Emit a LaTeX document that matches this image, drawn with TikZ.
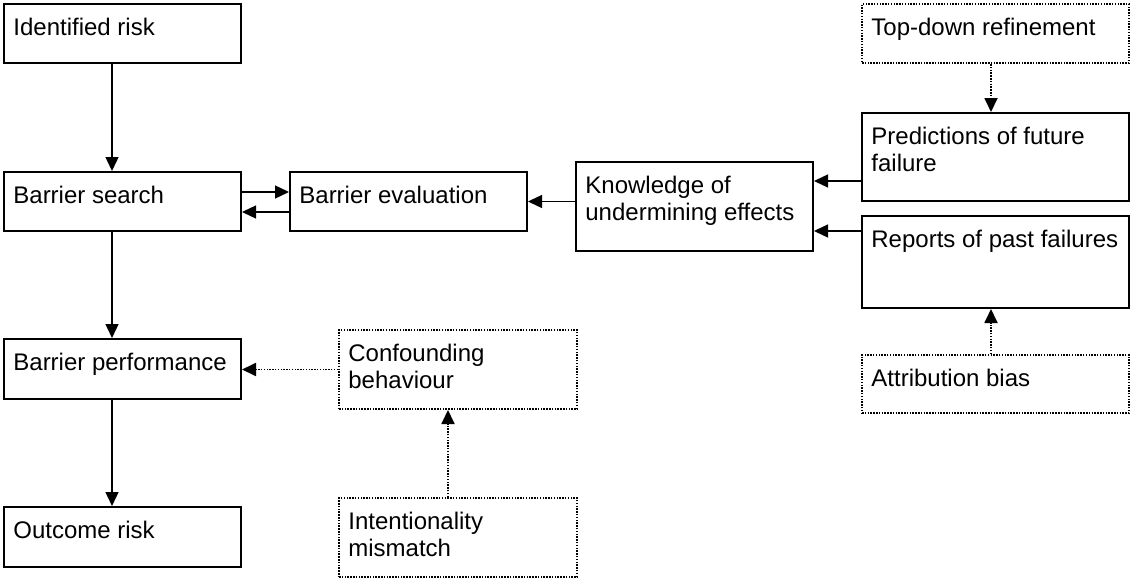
\documentclass[tikz,border=0pt]{standalone}
\usepackage{fontspec}
\setmainfont{Liberation Sans}
\usetikzlibrary{arrows.meta}
\begin{document}
\begin{tikzpicture}[x=0.5pt, y=-0.5pt,
    box/.style = {draw, line width=1pt, inner sep=0pt},
    hintbox/.style = {draw, line width=1pt, dash pattern=on 0.75pt off 0.65pt, inner sep=0pt},
    txt/.style = {anchor=base west, inner sep=0pt, align=left, font=\fontsize{12}{13.5}\selectfont},
    arr/.style = {-{Triangle[length=7pt,width=6.5pt]}, line width=0.7pt},
    hintarr/.style = {arr, line width=0.9pt, dash pattern=on 0.75pt off 0.65pt}]
    \useasboundingbox (0,0) rectangle (1131,578);
    % main chain
    \node[box, minimum width=118.5pt, minimum height=29.5pt] (ir) at (122.5,33.5) {};
    \node[box, minimum width=118.5pt, minimum height=29.5pt] (bs) at (122.5,201.5) {};
    \node[box, minimum width=118.5pt, minimum height=30pt] (bp) at (122.5,369) {};
    \node[box, minimum width=118.5pt, minimum height=30pt] (or) at (122.5,537) {};
    \node[box, minimum width=118.5pt, minimum height=29.5pt] (be) at (408.5,201.5) {};
    \node[box, minimum width=118.5pt, minimum height=44.5pt] (ku) at (694.5,206.5) {};
    \node[box, minimum width=133.5pt, minimum height=44pt] (pf) at (995.5,157) {};
    \node[box, minimum width=133.5pt, minimum height=46pt] (rp) at (995.5,262) {};
    % influences
    \node[hintbox, minimum width=133.5pt, minimum height=29.5pt] (td) at (995.5,33.5) {};
    \node[hintbox, minimum width=133.5pt, minimum height=29pt] (ab) at (995.5,384) {};
    \node[hintbox, minimum width=119pt, minimum height=39.5pt] (cb) at (458,369.5) {};
    \node[hintbox, minimum width=119pt, minimum height=39.5pt] (im) at (458,537.5) {};
    % labels (two-line labels sit on their last baseline)
    \node[txt] (ir-t) at ([shift={(5pt,-16pt)}]ir.north west) {Identified risk};
    \node[txt] (bs-t) at ([shift={(5pt,-16pt)}]bs.north west) {Barrier search};
    \node[txt] (bp-t) at ([shift={(5pt,-16pt)}]bp.north west) {Barrier performance};
    \node[txt] (or-t) at ([shift={(5pt,-16pt)}]or.north west) {Outcome risk};
    \node[txt] (be-t) at ([shift={(5pt,-16pt)}]be.north west) {Barrier evaluation};
    \node[txt] (ku-t) at ([shift={(5pt,-29.5pt)}]ku.north west) {Knowledge of\\undermining effects};
    \node[txt] (pf-t) at ([shift={(5pt,-29.5pt)}]pf.north west) {Predictions of future\\failure};
    \node[txt] (rp-t) at ([shift={(5pt,-16pt)}]rp.north west) {Reports of past failures};
    \node[txt] (td-t) at ([shift={(5pt,-16pt)}]td.north west) {Top-down refinement};
    \node[txt] (ab-t) at ([shift={(5pt,-16pt)}]ab.north west) {Attribution bias};
    \node[txt] (cb-t) at ([shift={(5pt,-29.5pt)}]cb.north west) {Confounding\\behaviour};
    \node[txt] (im-t) at ([shift={(5pt,-29.5pt)}]im.north west) {Intentionality\\mismatch};
    % connectors
    \draw[arr] ([xshift=-5.25pt]ir.south) -- ([xshift=-5.25pt]bs.north);
    \draw[arr] ([xshift=-5.25pt]bs.south) -- ([xshift=-5.25pt]bp.north);
    \draw[arr] ([xshift=-5.25pt]bp.south) -- ([xshift=-5.25pt]or.north);
    \draw[arr] ([yshift=4.75pt]bs.east) -- ([yshift=4.75pt]be.west);
    \draw[arr] ([yshift=-5.25pt]be.west) -- ([yshift=-5.25pt]bs.east);
    \draw[arr] (ku.west |- be.east) -- (be.east);
    \coordinate (ku-a) at ([yshift=12.75pt]ku.east);
    \coordinate (ku-b) at ([yshift=-12.25pt]ku.east);
    \draw[arr] (ku-a -| pf.west) -- (ku-a);
    \draw[arr] (ku-b -| rp.west) -- (ku-b);
    \draw[hintarr] ([xshift=-2.25pt]td.south) -- ([xshift=-2.25pt]pf.north);
    \draw[hintarr] ([xshift=-2.25pt]ab.north) -- ([xshift=-2.25pt]rp.south);
    \draw[hintarr] (cb.west) -- (cb.west -| bp.east);
    \draw[hintarr] ([xshift=-5pt]im.north) -- ([xshift=-5pt]cb.south);
\end{tikzpicture}
\end{document}
